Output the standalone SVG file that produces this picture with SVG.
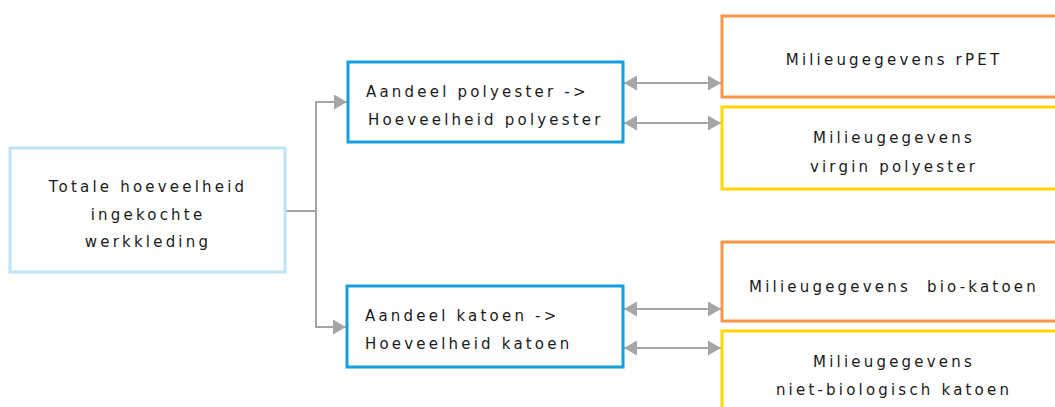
<svg xmlns="http://www.w3.org/2000/svg" width="1055" height="407" viewBox="0 0 1055 407">
<style>
text{font-family:"DejaVu Sans",Verdana,sans-serif;font-size:15px;letter-spacing:3.2px;fill:#1a1a1a}
.c{text-anchor:middle}
.box{fill:#fff;stroke-width:3}
.lb{stroke:#BDE4F7}
.db{stroke:#14A0DC}
.or{stroke:#F79646}
.ye{stroke:#FFD800}
.ln{fill:none;stroke:#A6A6A6;stroke-width:2}
</style>
<defs>
<marker id="ah" markerUnits="userSpaceOnUse" markerWidth="14" markerHeight="15" refX="13" refY="7.5" orient="auto-start-reverse">
<path d="M0,0 L13,7.5 L0,15 z" fill="#A6A6A6"/>
</marker>
</defs>
<rect width="1055" height="407" fill="#fff"/>
<g id="connectors">
<path class="ln" d="M286,211 H316"/>
<path class="ln" d="M316,326 V102 H347" marker-end="url(#ah)"/>
<path class="ln" d="M316,211 V327 H346" marker-end="url(#ah)"/>
<path class="ln" d="M624,83 H721" marker-start="url(#ah)" marker-end="url(#ah)"/>
<path class="ln" d="M624,123 H721" marker-start="url(#ah)" marker-end="url(#ah)"/>
<path class="ln" d="M624,309 H721" marker-start="url(#ah)" marker-end="url(#ah)"/>
<path class="ln" d="M624,348 H721" marker-start="url(#ah)" marker-end="url(#ah)"/>
</g>
<g id="total">
<rect class="box lb" x="10" y="148" width="275" height="124"/>
<text class="c" x="148" y="192">Totale hoeveelheid</text>
<text class="c" x="148" y="220">ingekochte</text>
<text class="c" x="148" y="247">werkkleding</text>
</g>
<g id="polyester">
<rect class="box db" x="348" y="62" width="275" height="80"/>
<text x="366" y="97">Aandeel polyester -&gt;</text>
<text x="368" y="125">Hoeveelheid polyester</text>
</g>
<g id="katoen">
<rect class="box db" x="347" y="286" width="276" height="81"/>
<text x="365" y="321">Aandeel katoen -&gt;</text>
<text x="365" y="349">Hoeveelheid katoen</text>
</g>
<g id="rpet">
<rect class="box or" x="722" y="16" width="345" height="81"/>
<text class="c" x="894" y="65">Milieugegevens rPET</text>
</g>
<g id="virgin">
<rect class="box ye" x="722" y="107" width="345" height="82"/>
<text class="c" x="894" y="143">Milieugegevens</text>
<text class="c" x="894" y="172">virgin polyester</text>
</g>
<g id="biokatoen">
<rect class="box or" x="722" y="242" width="345" height="79"/>
<text class="c" x="894" y="292">Milieugegevens&#160; bio-katoen</text>
</g>
<g id="nietbio">
<rect class="box ye" x="722" y="331" width="345" height="90"/>
<text class="c" x="894" y="367">Milieugegevens</text>
<text class="c" x="894" y="395">niet-biologisch katoen</text>
</g>
</svg>
